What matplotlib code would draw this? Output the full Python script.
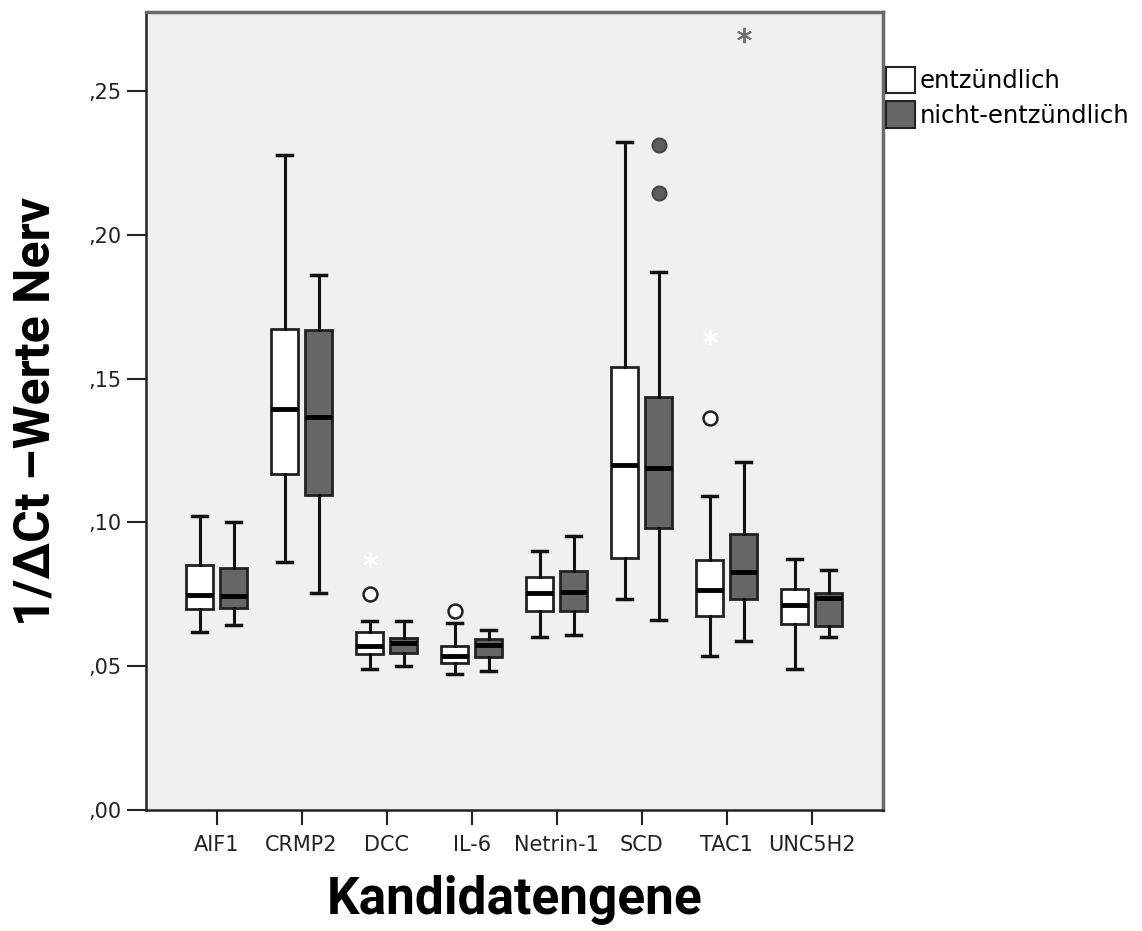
import matplotlib
matplotlib.use("Agg")
import matplotlib.pyplot as plt
from matplotlib.patches import Patch

genes = ['AIF1', 'CRMP2', 'DCC', 'IL-6', 'Netrin-1', 'SCD', 'TAC1', 'UNC5H2']

# entzündlich (white boxes)
e_whislo = [0.0620, 0.0862, 0.0490, 0.0472, 0.0600, 0.0733, 0.0534, 0.0491]
e_q1     = [0.0700, 0.1168, 0.0541, 0.0512, 0.0693, 0.0875, 0.0673, 0.0646]
e_med    = [0.0748, 0.1394, 0.0571, 0.0535, 0.0756, 0.1201, 0.0764, 0.0714]
e_q3     = [0.0853, 0.1672, 0.0620, 0.0571, 0.0811, 0.1540, 0.0868, 0.0767]
e_whishi = [0.1021, 0.2276, 0.0658, 0.0649, 0.0901, 0.2324, 0.1093, 0.0872]
e_outliers = [[], [], [0.0751], [0.0693], [], [], [0.1364], []]
e_extremes = [[], [], [0.0868], [], [], [], [0.1645], []]

# nicht-entzündlich (dark boxes)
n_whislo = [0.0642, 0.0756, 0.0502, 0.0483, 0.0608, 0.0661, 0.0588, 0.0601]
n_q1     = [0.0701, 0.1096, 0.0545, 0.0533, 0.0693, 0.0981, 0.0733, 0.0640]
n_med    = [0.0744, 0.1367, 0.0579, 0.0574, 0.0759, 0.1189, 0.0826, 0.0736]
n_q3     = [0.0841, 0.1668, 0.0597, 0.0593, 0.0832, 0.1436, 0.0961, 0.0755]
n_whishi = [0.1002, 0.1861, 0.0658, 0.0626, 0.0953, 0.1871, 0.1211, 0.0833]
n_outliers = [[], [], [], [], [], [0.2313, 0.2145], [], []]
n_extremes = [[], [], [], [], [], [], [0.2696], []]

yticks = [0.00, 0.05, 0.10, 0.15, 0.20, 0.25]
ytick_labels = [',00', ',05', ',10', ',15', ',20', ',25']
legend_labels = ['entzündlich', 'nicht-entzündlich']

WHITE = '#ffffff'
DARK = '#666666'
BG = '#f0f0f0'

fig = plt.figure(figsize=(11.42, 9.31), dpi=100)
ax = fig.add_axes([146/1142, 121/931, (883-146)/1142, (810-12)/931])
ax.set_facecolor(BG)


def stats(whislo, q1, med, q3, whishi, fl):
    return [dict(whislo=a, q1=b, med=c, q3=d, whishi=e, fliers=f, label='')
            for a, b, c, d, e, f in zip(whislo, q1, med, q3, whishi, fl)]


offset = 0.2
width = 0.32
groups = [
    (stats(e_whislo, e_q1, e_med, e_q3, e_whishi, e_outliers), -offset, WHITE,
     dict(marker='o', markerfacecolor='white', markeredgecolor='#222222', markersize=10, markeredgewidth=1.8, linestyle='none'),
     e_extremes, 'white'),
    (stats(n_whislo, n_q1, n_med, n_q3, n_whishi, n_outliers), offset, DARK,
     dict(marker='o', markerfacecolor='#5e5e5e', markeredgecolor='#444444', markersize=10, markeredgewidth=1.5, linestyle='none'),
     n_extremes, '#707070'),
]

for st, off, fc, fprops, extremes, starcol in groups:
    pos = [i + off for i in range(len(genes))]
    ax.bxp(st, positions=pos, widths=width, patch_artist=True, showfliers=True,
           boxprops=dict(facecolor=fc, edgecolor='#222222', linewidth=2),
           medianprops=dict(color='black', linewidth=3.5),
           whiskerprops=dict(color='#111111', linewidth=2.2),
           capprops=dict(color='#111111', linewidth=2.5),
           capwidths=0.18,
           flierprops=fprops)
    for i, ex in enumerate(extremes):
        for v in ex:
            ax.plot(i + off, v, marker=(6, 2, 0), color=starcol, markersize=11,
                    markeredgewidth=1.4, linestyle='none', zorder=5)

ax.set_xlim(-0.83, 7.84)
ax.set_ylim(0, 0.2775)
ax.set_xticks(range(len(genes)))
ax.set_xticklabels(genes)
ax.set_yticks(yticks)
ax.set_yticklabels(ytick_labels)
ax.tick_params(axis='y', length=14, width=1.5, labelsize=15, pad=4, colors='#222222')
ax.tick_params(axis='x', length=11, width=1.5, labelsize=15, pad=7, colors='#222222')

for s in ['left', 'bottom']:
    ax.spines[s].set_color('#222222')
    ax.spines[s].set_linewidth(1.8)
for s in ['top', 'right']:
    ax.spines[s].set_color('#6a6a6a')
    ax.spines[s].set_linewidth(2.5)

fig.text(36/1142, 1 - 411/931, '1/\u0394Ct \u2013Werte Nerv', rotation=90,
         ha='center', va='center', fontsize=36, fontweight='bold',
         family=['Roboto', 'DejaVu Sans'], color='black')
fig.text(515/1142, 1 - 900/931, 'Kandidatengene', ha='center', va='center',
         fontsize=37, fontweight='bold', family=['Roboto', 'DejaVu Sans'], color='black')

handles = [Patch(facecolor=WHITE, edgecolor='#222222', linewidth=1.5),
           Patch(facecolor=DARK, edgecolor='#222222', linewidth=1.5)]
fig.legend(handles, legend_labels, loc='upper left',
           bbox_to_anchor=(886/1142, 1 - 67/931), frameon=False,
           fontsize=17.5, handlelength=1.2, handleheight=1.3, handletextpad=0.2,
           labelspacing=0.32, borderpad=0, borderaxespad=0)

fig.savefig('out.png', dpi=100, facecolor='white')
